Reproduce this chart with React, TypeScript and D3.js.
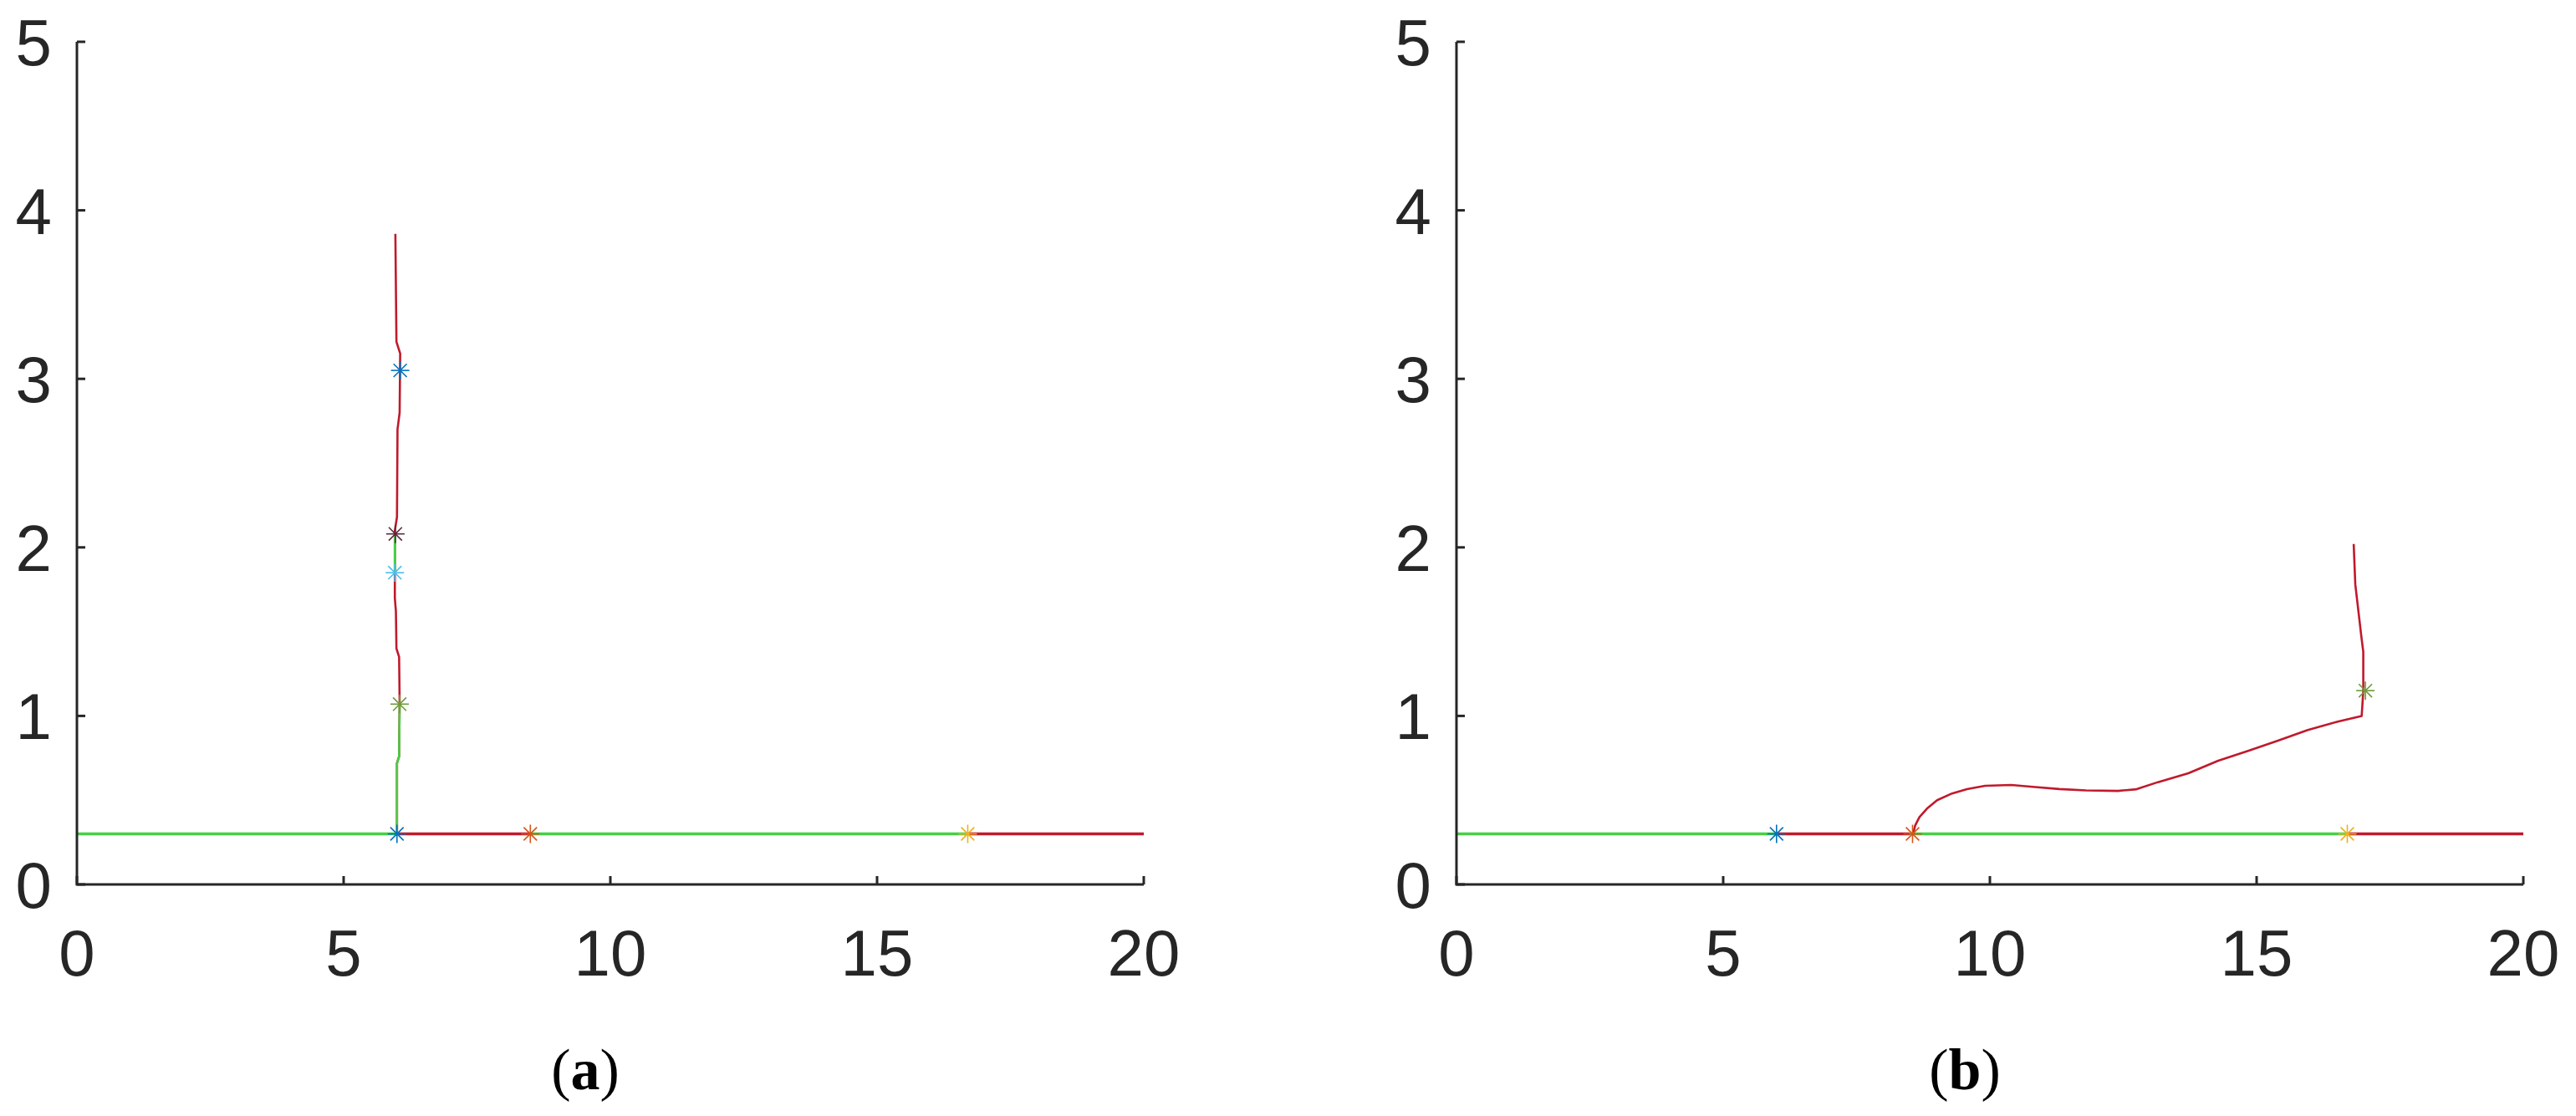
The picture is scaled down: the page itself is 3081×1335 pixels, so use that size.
import React from 'react';
import * as d3 from 'd3';

// axis ticks
const xTicks = [0, 5, 10, 15, 20];
const yTicks = [0, 1, 2, 3, 4, 5];

// horizontal base line (y = 0.3), split in coloured pieces
const baseLevel = 0.3;
const baseBreaks = [0, 6, 8.5, 16.7, 20];
const baseColors = ['green', 'red', 'green', 'red'];

// (a) vertical branch near x = 6
const aRedPath: [number, number][] = [
  [6.0, 0.3], [6.0, 0.72], [6.04, 0.76], [6.05, 1.08], [6.04, 1.35], [5.99, 1.4],
  [5.98, 1.62], [5.96, 1.7], [5.96, 2.1], [6.0, 2.18], [6.01, 2.7], [6.05, 2.8],
  [6.06, 3.15], [5.99, 3.22], [5.97, 3.86],
];
const aGreenPath1: [number, number][] = [[6.0, 0.3], [6.0, 0.72], [6.04, 0.76], [6.05, 1.08]];
const aGreenPath2: [number, number][] = [[5.96, 1.86], [5.96, 2.07]];

// (b) curve leaving the base line at x = 8.5
const bRedPath: [number, number][] = [
  [8.56, 0.3], [8.6, 0.35], [8.68, 0.4], [8.82, 0.45], [9.01, 0.5], [9.29, 0.54],
  [9.57, 0.565], [9.91, 0.585], [10.4, 0.59], [10.85, 0.578], [11.3, 0.566],
  [11.8, 0.558], [12.4, 0.555], [12.75, 0.565], [13.15, 0.607], [13.72, 0.66],
  [14.28, 0.734], [14.84, 0.792], [15.4, 0.853], [15.96, 0.916], [16.52, 0.966],
  [16.97, 1.0], [17.0, 1.15], [17.0, 1.38], [16.96, 1.48], [16.92, 1.59],
  [16.85, 1.78], [16.82, 2.02],
];

// marker points
const aMarkers = [
  { x: 6.0, y: 0.3, c: 'blue' },
  { x: 8.5, y: 0.3, c: 'orange' },
  { x: 16.7, y: 0.3, c: 'yellow' },
  { x: 6.06, y: 3.05, c: 'blue' },
  { x: 5.97, y: 2.08, c: 'purple' },
  { x: 5.96, y: 1.85, c: 'lightblue' },
  { x: 6.05, y: 1.07, c: 'olive' },
];
const bMarkers = [
  { x: 6.0, y: 0.3, c: 'blue' },
  { x: 8.55, y: 0.3, c: 'orange' },
  { x: 16.7, y: 0.3, c: 'yellow' },
  { x: 17.04, y: 1.15, c: 'olive' },
];

const colors: Record<string, string> = {
  green: '#45d045',
  red: '#c01a2c',
  blue: '#0072BD',
  orange: '#D95319',
  yellow: '#EDB120',
  purple: '#5a2a3a',
  lightblue: '#4DBEEE',
  olive: '#6f9a3a',
};

const axisColor = '#262626';

function Star({ cx, cy, color }: { cx: number; cy: number; color: string }) {
  const r = 11;
  const d = r * 0.72;
  return (
    <g stroke={color} strokeWidth={1.6}>
      <line x1={cx} y1={cy - r} x2={cx} y2={cy + r} />
      <line x1={cx - r} y1={cy} x2={cx + r} y2={cy} />
      <line x1={cx - d} y1={cy - d} x2={cx + d} y2={cy + d} />
      <line x1={cx - d} y1={cy + d} x2={cx + d} y2={cy - d} />
    </g>
  );
}

function Panel({ left, label, paths, markers }: {
  left: number;
  label: string;
  paths: { pts: [number, number][]; color: string; w: number }[];
  markers: { x: number; y: number; c: string }[];
}) {
  const top = 50, bottom = 1058, width = 1276;
  const x = d3.scaleLinear().domain([0, 20]).range([left, left + width]);
  const y = d3.scaleLinear().domain([0, 5]).range([bottom, top]);
  const line = d3.line<[number, number]>().x(d => x(d[0])).y(d => y(d[1]));

  const basePieces = baseColors.map((c, i) => ({
    color: c,
    pts: [[baseBreaks[i], baseLevel], [baseBreaks[i + 1], baseLevel]] as [number, number][],
  }));

  return (
    <g>
      {/* base line pieces */}
      {basePieces.map((p, i) => (
        <path key={'b' + i} d={line(p.pts) || ''} fill="none" stroke={colors[p.color]} strokeWidth={3.5} />
      ))}
      {paths.map((p, i) => (
        <path key={'p' + i} d={line(p.pts) || ''} fill="none" stroke={colors[p.color]}
          strokeWidth={p.w} strokeLinejoin="round" />
      ))}
      {markers.map((m, i) => (
        <Star key={'m' + i} cx={x(m.x)} cy={y(m.y)} color={colors[m.c]} />
      ))}

      {/* axes */}
      <path d={`M${x(0)},${y(5)}V${y(0)}H${x(20)}`} fill="none" stroke={axisColor} strokeWidth={3} />
      {xTicks.map(t => (
        <g key={'xt' + t}>
          <line x1={x(t)} x2={x(t)} y1={y(0)} y2={y(0) - 10} stroke={axisColor} strokeWidth={3} />
          <text x={x(t)} y={1167} textAnchor="middle" fontSize={78} fill={axisColor}
            fontFamily="'Liberation Sans', Arial, sans-serif">{t}</text>
        </g>
      ))}
      {yTicks.map(t => (
        <g key={'yt' + t}>
          <line x1={x(0)} x2={x(0) + 10} y1={y(t)} y2={y(t)} stroke={axisColor} strokeWidth={3} />
          <text x={x(0) - 30} y={y(t) + 28} textAnchor="end" fontSize={78} fill={axisColor}
            fontFamily="'Liberation Sans', Arial, sans-serif">{t}</text>
        </g>
      ))}

      {/* caption */}
      <text x={x(10) - 30} y={1303} textAnchor="middle" fontSize={70} fill="#000"
        fontFamily="'Liberation Serif', 'Times New Roman', serif">
        <tspan>(</tspan><tspan fontWeight="bold">{label}</tspan><tspan>)</tspan>
      </text>
    </g>
  );
}

export default function App() {
  return (
    <div style={{ position: 'absolute', left: 0, top: 0 }}>
      <svg width={3081} height={1335} style={{ display: 'block', background: '#fff' }}>
        <Panel left={92} label="a"
          paths={[
            { pts: aRedPath, color: 'red', w: 2.6 },
            { pts: aGreenPath1, color: 'green', w: 2.6 },
            { pts: aGreenPath2, color: 'green', w: 2.6 },
          ]}
          markers={aMarkers} />
        <Panel left={1742} label="b"
          paths={[{ pts: bRedPath, color: 'red', w: 2.6 }]}
          markers={bMarkers} />
      </svg>
    </div>
  );
}
